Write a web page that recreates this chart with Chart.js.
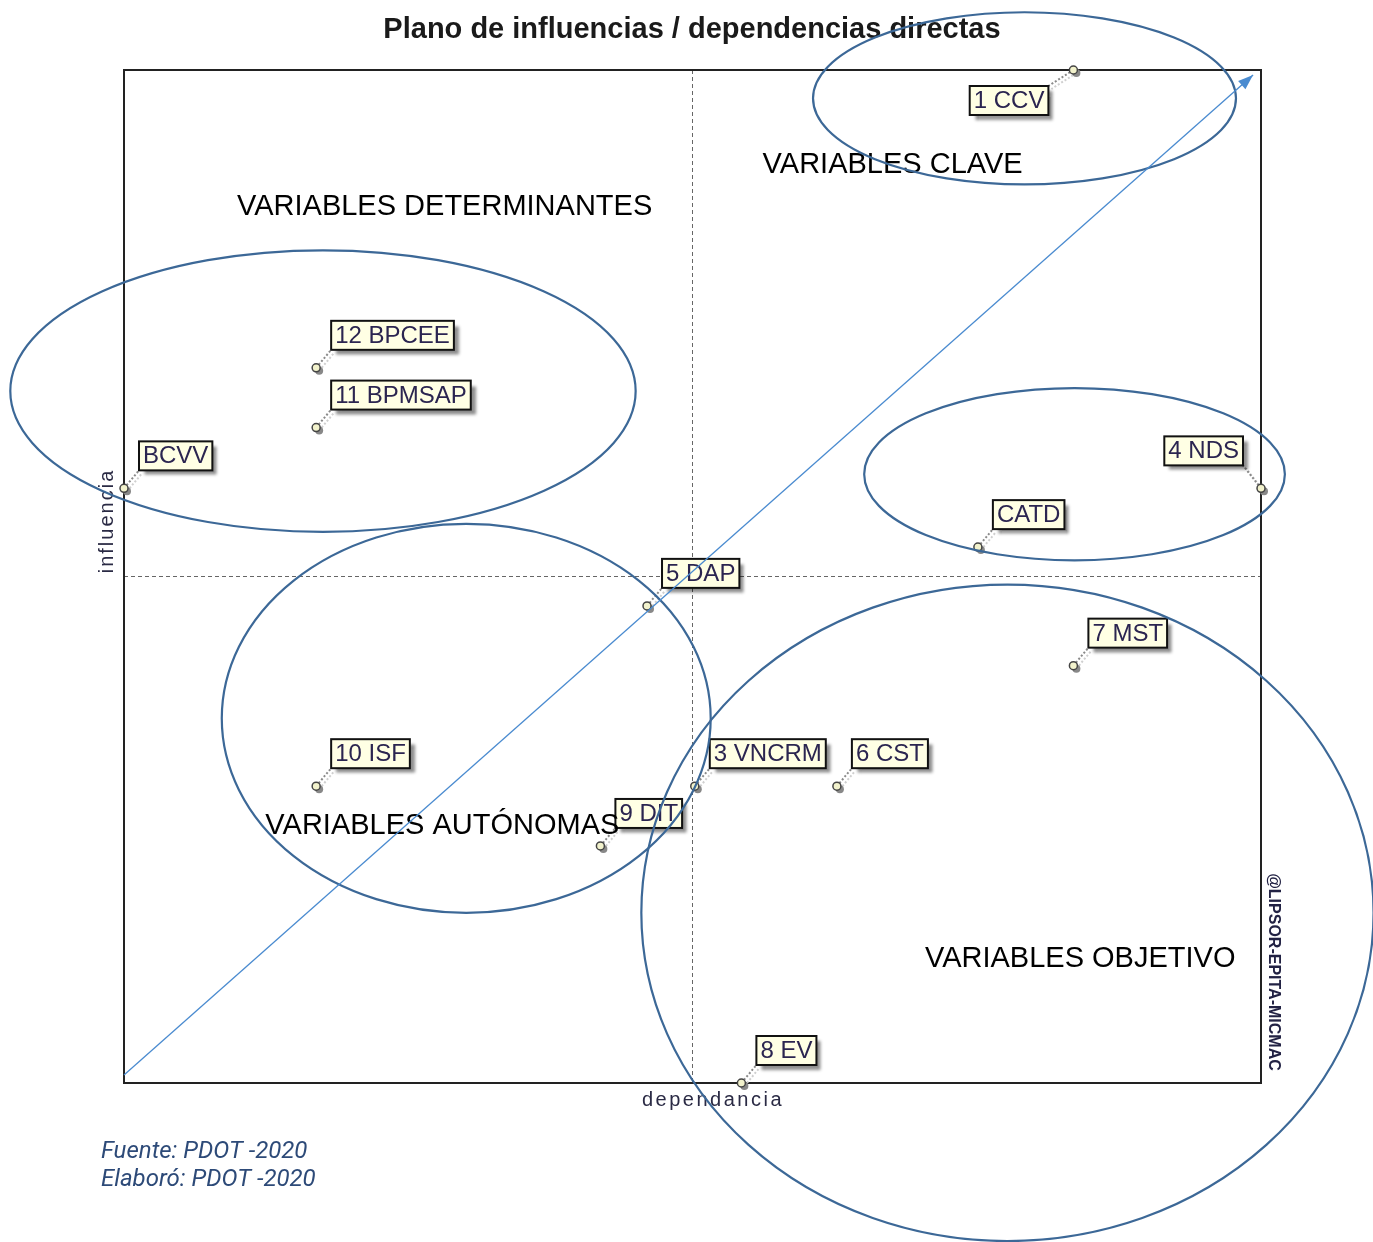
<!DOCTYPE html>
<html>
<head>
<meta charset="utf-8">
<script src="https://cdn.jsdelivr.net/npm/chart.js@4.4.1/dist/chart.umd.min.js"></script>
<style>
  html, body { margin: 0; padding: 0; background: #fff; }
  #wrap { width: 1373px; height: 1242px; position: relative; }
</style>
</head>
<body>
<div id="wrap"><canvas id="plano"></canvas></div>
<script>
// Variables del plano (dependencia = eje x, influencia = eje y)
const variables   = ['1 CCV', '12 BPCEE', '11 BPMSAP', 'BCVV', '4 NDS', 'CATD', '5 DAP', '7 MST', '10 ISF', '3 VNCRM', '6 CST', '9 DIT', '8 EV'];
const dependencia = [83.5, 16.9, 16.9, 0.0, 100.0, 75.1, 46.0, 83.5, 16.9, 50.2, 62.7, 41.9, 54.3];
const influencia  = [100.0, 70.6, 64.7, 58.7, 58.7, 52.9, 47.1, 41.2, 29.3, 29.3, 29.3, 23.4, 0.0];

const titulo = 'Plano de influencias / dependencias directas';
const ejeX = 'dependancia';
const ejeY = 'influencia';
const zonas = ['VARIABLES CLAVE', 'VARIABLES DETERMINANTES', 'VARIABLES AUTÓNOMAS', 'VARIABLES OBJETIVO'];
const notas = ['Fuente: PDOT -2020', 'Elaboró: PDOT -2020'];

// posiciones de los textos de zona (en unidades del plano)
const zonaPos = [[67.6, 90.6], [28.2, 86.5], [28.0, 25.4], [84.1, 12.2]];
// elipses dibujadas a mano: centro x, centro y, radio x, radio y (unidades del plano)
const elipses = [
  [79.2, 97.2, 18.6, 8.5],
  [17.5, 68.3, 27.5, 13.9],
  [83.6, 60.1, 18.5, 8.5],
  [30.1, 36.0, 21.5, 19.2],
  [77.7, 16.8, 32.2, 32.4]
];
// flecha diagonal
const flecha = [[0, 0.8], [99.3, 99.5]];

const puntos = dependencia.map((x, i) => ({ x: x, y: influencia[i] }));

const AZUL = '#3c6897';

function cajaEtiqueta(mx, my, w, h) {
  // por defecto arriba a la derecha; se voltea en los bordes
  if (my <= 72) return { x: mx - 25 - w, y: my + 16 };      // borde superior
  if (mx >= 1259) return { x: mx - 18 - w, y: my - 23 - h }; // borde derecho
  return { x: mx + 15, y: my - 18 - h };
}

const planoPlugin = {
  id: 'plano',
  beforeDraw(chart) {
    const ctx = chart.ctx;
    const a = chart.chartArea;
    ctx.save();
    ctx.fillStyle = '#fff';
    ctx.fillRect(0, 0, chart.width, chart.height);
    // lineas medias punteadas
    const sx = chart.scales.x, sy = chart.scales.y;
    ctx.strokeStyle = '#666';
    ctx.lineWidth = 1;
    ctx.setLineDash([4, 3]);
    ctx.beginPath();
    ctx.moveTo(sx.getPixelForValue(50), a.top);
    ctx.lineTo(sx.getPixelForValue(50), a.bottom);
    ctx.moveTo(a.left, sy.getPixelForValue(50));
    ctx.lineTo(a.right, sy.getPixelForValue(50));
    ctx.stroke();
    ctx.setLineDash([]);
    // marco
    ctx.strokeStyle = '#222';
    ctx.lineWidth = 2;
    ctx.strokeRect(a.left, a.top, a.right - a.left, a.bottom - a.top);

    // titulo
    ctx.fillStyle = '#1a1a1a';
    ctx.font = 'bold 29px Arial, "Liberation Sans", sans-serif';
    ctx.textAlign = 'center';
    ctx.textBaseline = 'middle';
    ctx.fillText(titulo, 692, 30);

    // titulos de ejes
    ctx.fillStyle = '#2a2a44';
    ctx.font = '20px Arial, "Liberation Sans", sans-serif';
    ctx.letterSpacing = '2.5px';
    ctx.fillText(ejeX, 713, 1100);
    ctx.save();
    ctx.translate(107, 521);
    ctx.rotate(-Math.PI / 2);
    ctx.letterSpacing = '2px';
    ctx.fillText(ejeY, 0, 0);
    ctx.restore();
    ctx.letterSpacing = '0px';

    // marca de agua
    ctx.save();
    ctx.translate(1273, 972);
    ctx.rotate(Math.PI / 2);
    ctx.fillStyle = '#222244';
    ctx.font = 'bold 16px Arial, "Liberation Sans", sans-serif';
    ctx.fillText('@LIPSOR-EPITA-MICMAC', 0, 0);
    ctx.restore();

    // notas
    ctx.textAlign = 'left';
    ctx.fillStyle = '#2d4a78';
    ctx.font = 'italic 24px Roboto, "Open Sans", sans-serif';
    notas.forEach((t, i) => ctx.fillText(t, 101, 1152 + i * 28));
    ctx.restore();
  },
  beforeDatasetsDraw(chart) {
    // lineas guia punteadas y sombra de los marcadores
    const ctx = chart.ctx;
    const meta = chart.getDatasetMeta(0);
    ctx.save();
    ctx.font = '24px Arial, "Liberation Sans", sans-serif';
    meta.data.forEach((p, i) => {
      const w = ctx.measureText(variables[i]).width + 8;
      const h = 29;
      const b = cajaEtiqueta(p.x, p.y, w, h);
      const cx = b.x < p.x ? b.x + w : b.x;
      const cy = b.y > p.y ? b.y : b.y + h;
      ctx.setLineDash([2, 2]);
      ctx.lineWidth = 2;
      ctx.strokeStyle = '#cfcfcf';
      ctx.beginPath();
      ctx.moveTo(p.x + 3, p.y + 3);
      ctx.lineTo(cx + 3, cy + 3);
      ctx.stroke();
      ctx.strokeStyle = '#8a8a8a';
      ctx.beginPath();
      ctx.moveTo(p.x, p.y);
      ctx.lineTo(cx, cy);
      ctx.stroke();
      ctx.setLineDash([]);
      ctx.fillStyle = '#888';
      ctx.beginPath();
      ctx.arc(p.x + 3, p.y + 3, 4, 0, Math.PI * 2);
      ctx.fill();
    });
    ctx.restore();
  },
  afterDatasetsDraw(chart) {
    // etiquetas con caja amarilla
    const ctx = chart.ctx;
    const meta = chart.getDatasetMeta(0);
    ctx.save();
    ctx.font = '24px Arial, "Liberation Sans", sans-serif';
    ctx.textBaseline = 'middle';
    ctx.textAlign = 'left';
    meta.data.forEach((p, i) => {
      const w = ctx.measureText(variables[i]).width + 8;
      const h = 29;
      const b = cajaEtiqueta(p.x, p.y, w, h);
      ctx.save();
      ctx.shadowColor = 'rgba(0,0,0,0.45)';
      ctx.shadowOffsetX = 5;
      ctx.shadowOffsetY = 5;
      ctx.shadowBlur = 3;
      ctx.fillStyle = '#ffffe4';
      ctx.fillRect(b.x, b.y, w, h);
      ctx.restore();
      ctx.strokeStyle = '#111';
      ctx.lineWidth = 2;
      ctx.strokeRect(b.x, b.y, w, h);
      ctx.fillStyle = '#2b2550';
      ctx.fillText(variables[i], b.x + 4, b.y + h / 2 + 1);
    });

    // textos de zona
    const sx = chart.scales.x, sy = chart.scales.y;
    ctx.fillStyle = '#000';
    ctx.font = '29px Arial, "Liberation Sans", sans-serif';
    ctx.textAlign = 'center';
    zonas.forEach((t, i) => {
      ctx.fillText(t, sx.getPixelForValue(zonaPos[i][0]), sy.getPixelForValue(zonaPos[i][1]));
    });
    ctx.restore();
  },
  afterDraw(chart) {
    const ctx = chart.ctx;
    const sx = chart.scales.x, sy = chart.scales.y;
    const ux = Math.abs(sx.getPixelForValue(1) - sx.getPixelForValue(0));
    const uy = Math.abs(sy.getPixelForValue(1) - sy.getPixelForValue(0));
    ctx.save();
    // elipses
    ctx.strokeStyle = AZUL;
    ctx.lineWidth = 2.2;
    elipses.forEach(e => {
      ctx.beginPath();
      ctx.ellipse(sx.getPixelForValue(e[0]), sy.getPixelForValue(e[1]), e[2] * ux, e[3] * uy, 0, 0, Math.PI * 2);
      ctx.stroke();
    });
    // flecha
    const x0 = sx.getPixelForValue(flecha[0][0]), y0 = sy.getPixelForValue(flecha[0][1]);
    const x1 = sx.getPixelForValue(flecha[1][0]), y1 = sy.getPixelForValue(flecha[1][1]);
    ctx.strokeStyle = '#4a8bd0';
    ctx.fillStyle = '#4a8bd0';
    ctx.lineWidth = 1.3;
    ctx.beginPath();
    ctx.moveTo(x0, y0);
    ctx.lineTo(x1, y1);
    ctx.stroke();
    const ang = Math.atan2(y1 - y0, x1 - x0);
    ctx.beginPath();
    ctx.moveTo(x1, y1);
    ctx.lineTo(x1 - 16 * Math.cos(ang - 0.35), y1 - 16 * Math.sin(ang - 0.35));
    ctx.lineTo(x1 - 16 * Math.cos(ang + 0.35), y1 - 16 * Math.sin(ang + 0.35));
    ctx.closePath();
    ctx.fill();
    ctx.restore();
  }
};

new Chart(document.getElementById('plano'), {
  type: 'scatter',
  data: {
    datasets: [{
      label: 'variables',
      data: puntos,
      pointRadius: 4,
      pointHoverRadius: 4,
      pointBackgroundColor: '#f2f2cc',
      pointBorderColor: '#444',
      pointBorderWidth: 1.5,
      clip: false
    }]
  },
  options: {
    responsive: true,
    maintainAspectRatio: false,
    animation: false,
    layout: { padding: { left: 124, right: 112, top: 70, bottom: 159 } },
    scales: {
      x: { type: 'linear', min: 0, max: 100, display: false },
      y: { type: 'linear', min: 0, max: 100, display: false }
    },
    plugins: {
      legend: { display: false },
      tooltip: { enabled: false }
    }
  },
  plugins: [planoPlugin]
});
</script>
</body>
</html>
